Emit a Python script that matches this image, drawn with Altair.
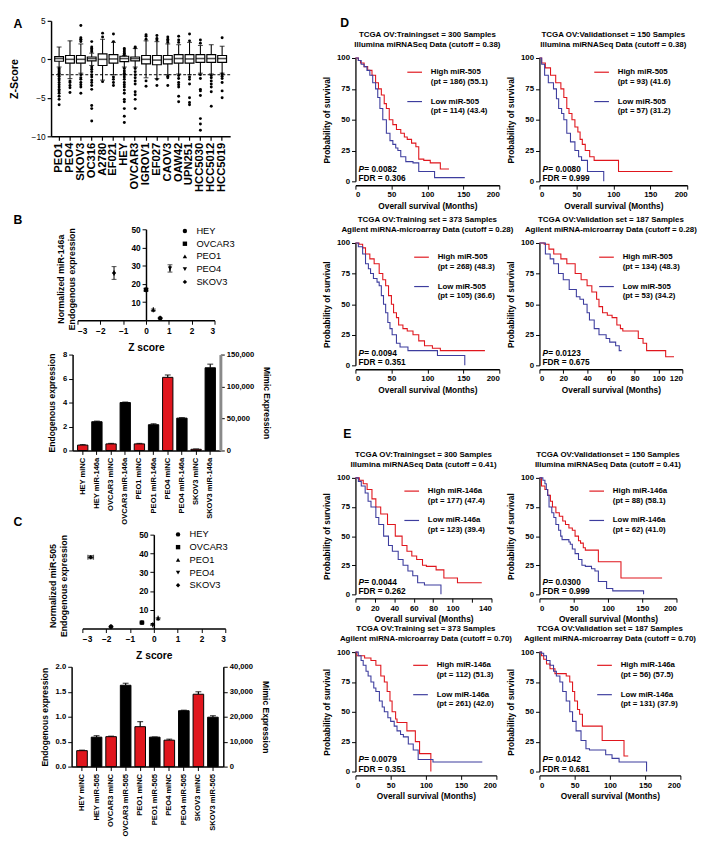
import altair as alt
import pandas as pd

FONT = "Liberation Sans"
RED = "#e0161d"
BLUE = "#3d3d9e"

# ---------------- Panel A ----------------
cell_lines = ["PEO1", "PEO4", "SKOV3", "OC316", "A2780", "EF021", "HEY", "OVCAR3",
              "IGROV1", "EF027", "CAOV3", "OAW42", "UPN251", "HCC5030", "HCC5012", "HCC5019"]
box_q1 = [-0.25, -0.5, -0.5, -0.2, -0.8, -0.5, -0.3, -0.2, -0.6, -0.7, -0.6, -0.5, -0.5, -0.4, -0.4, -0.4]
box_med = [0.1, 0.0, 0.0, 0.1, 0.0, 0.05, 0.1, 0.1, 0.0, -0.1, 0.0, 0.1, 0.05, 0.1, 0.1, 0.1]
box_q3 = [0.35, 0.5, 0.5, 0.3, 0.7, 0.6, 0.4, 0.3, 0.5, 0.5, 0.5, 0.6, 0.6, 0.6, 0.6, 0.5]
whisk_lo = [-1.0, -2.5, -1.8, -0.8, -2.7, -2.0, -1.0, -1.0, -2.4, -2.5, -2.0, -1.9, -2.0, -1.8, -1.9, -1.8]
whisk_hi = [1.6, 2.4, 2.0, 0.8, 2.6, 2.2, 0.5, 1.4, 2.4, 2.3, 2.0, 1.9, 2.2, 1.8, 1.9, 1.7]
outliers = {
    "PEO1": [-1.2, -1.4, -1.6, -1.8, -2.0, -2.2, -2.5, -2.7, -3.0, -3.3, -3.6, -3.9, -4.1, -4.4, -4.8, -5.2, -5.9],
    "PEO4": [-2.8, -3.0, -3.4, -3.7, -4.3],
    "SKOV3": [2.3, 2.5, 2.6, 2.8, 4.4, -2.0, -2.4, -2.6, -3.0, -3.3, -3.6, -4.4],
    "OC316": [1.0, 1.2, 1.4, 1.6, 2.3, -1.0, -1.3, -1.6, -2.0, -2.3, -2.7, -3.0, -3.4, -3.9, -6.0, -6.4, -8.0],
    "A2780": [2.9, 3.4, -2.9],
    "EF021": [2.3, 3.3, -2.3, -2.6, -3.0, -3.4],
    "HEY": [0.6, 0.8, 1.0, 1.2, 1.4, -1.2, -1.5, -1.8, -2.0, -2.3, -2.6, -3.0, -3.3, -3.6, -4.0, -4.4,
            -5.2, -5.5, -6.4, -7.4, -8.2],
    "OVCAR3": [1.5, 1.6, -1.2, -1.6, -2.0, -2.4, -2.8, -3.2, -4.2, -4.6, -5.2, -6.4],
    "IGROV1": [2.6, 3.0, 3.2, -2.8, -3.5],
    "EF027": [2.5, 2.7, 3.1, -2.6, -3.4],
    "CAOV3": [2.2, 2.4, 2.6, 2.9, -2.2, -2.4, -3.4],
    "OAW42": [2.2, 2.5, 3.0, -2.1, -2.5, -3.0, -3.3, -3.6, -4.8, -5.5],
    "UPN251": [2.4, 3.3, -2.3, -2.6, -3.2, -5.0, -5.6, -5.9],
    "HCC5030": [2.1, 2.5, -2.0, -2.5, -3.9, -4.1, -4.7, -7.7, -8.4, -9.2],
    "HCC5012": [-2.1, -2.4, -2.8, -3.2, -3.6, -4.2, -6.1],
    "HCC5019": [2.8, -1.9, -2.2, -2.5, -3.0, -4.1, -5.0],
}
z_threshold = [-2.0]
panel_letters = ["A", "B", "C", "D", "E"]

# ---------------- Panels B / C scatter ----------------
cells = ["HEY", "OVCAR3", "PEO1", "PEO4", "SKOV3"]
cell_shapes = ["circle", "square", "triangle-up", "triangle-down", "diamond"]
b_z = [0.62, 0.0, 0.32, 1.05, -1.4]
b_expr = [1.2, 16.8, 5.8, 28.5, 26.0]
b_err_y = [0.3, 0.6, 0.4, 2.0, 3.5]
b_err_x = [0, 0, 0, 0, 0]
c_z = [-1.8, -0.5, 0.18, -0.05, -2.65]
c_expr = [1.0, 3.2, 5.5, 2.0, 38.0]
c_err_y = [0.2, 0.3, 0.3, 0.3, 0.8]
c_err_x = [0, 0, 0, 0, 0.12]

# ---------------- Panels B / C bars ----------------
b_bar_cats = ["HEY miNC", "HEY miR-146a", "OVCAR3 miNC", "OVCAR3 miR-146a", "PEO1 miNC",
              "PEO1 miR-146a", "PEO4 miNC", "PEO4 miR-146a", "SKOV3 miNC", "SKOV3 miR-146a"]
b_bar_vals = [0.45, 2.4, 0.55, 4.0, 0.55, 2.15, 6.1, 2.7, 0.1, 6.9]
b_bar_err = [0.04, 0.05, 0.04, 0.04, 0.04, 0.08, 0.2, 0.04, 0.03, 0.3]
c_bar_cats = ["HEY miNC", "HEY miR-505", "OVCAR3 miNC", "OVCAR3 miR-505", "PEO1 miNC",
              "PEO1 miR-505", "PEO4 miNC", "PEO4 miR-505", "SKOV3 miNC", "SKOV3 miR-505"]
c_bar_vals = [0.32, 0.59, 0.60, 1.63, 0.80, 0.59, 0.53, 1.12, 1.45, 0.99]
c_bar_err = [0.01, 0.03, 0.01, 0.04, 0.10, 0.005, 0.02, 0.01, 0.05, 0.03]
bar_groups = ["miNC", "mimic"] * 5
b_mimic_ticks = [0, 50000, 100000, 150000]
c_mimic_ticks = [0, 10000, 20000, 30000, 40000]

# ---------------- Panels D / E Kaplan-Meier ----------------
km_panels = [
    dict(t1="TCGA OV:Trainingset = 300 Samples", t2="Illumina miRNASeq Data (cutoff = 0.38)",
         rt=[0, 4, 7, 12, 17, 23, 28, 32, 36, 40, 43, 47, 52, 57, 63, 68, 72, 78, 84, 88, 95, 104, 118, 130],
         rs=[100, 98, 96, 93, 90, 86, 80, 75, 70, 63, 59, 50, 46, 42, 39, 36, 34, 31, 28, 18, 17, 15, 10, 10],
         bt=[0, 4, 8, 12, 16, 20, 24, 28, 31, 34, 38, 43, 48, 52, 56, 59, 63, 70, 80, 88, 110, 152],
         bs=[100, 98, 95, 93, 90, 86, 80, 75, 68, 59, 50, 39, 33, 30, 27, 25, 20, 16, 15, 8, 3, 3],
         hi1="High miR-505", hi2="(pt = 186) (55.1)", lo1="Low miR-505", lo2="(pt = 114) (43.4)",
         p="0.0082", fdr="0.306", xmax=200, xstep=50),
    dict(t1="TCGA OV:Validationset = 150 Samples", t2="Illumina miRNASeq Data (cutoff = 0.38)",
         rt=[0, 3, 8, 15, 22, 29, 33, 37, 40, 44, 48, 52, 55, 58, 62, 68, 74, 107, 180],
         rs=[100, 96, 92, 86, 80, 75, 68, 59, 55, 50, 44, 40, 34, 30, 25, 20, 17, 8, 8],
         bt=[0, 3, 7, 12, 19, 23, 26, 30, 33, 37, 42, 48, 53, 57, 65, 87],
         bs=[100, 95, 86, 80, 75, 67, 59, 55, 50, 39, 32, 25, 20, 17, 8, 0],
         hi1="High miR-505", hi2="(pt = 93) (41.6)", lo1="Low miR-505", lo2="(pt = 57) (31.2)",
         p="0.0080", fdr="0.999", xmax=200, xstep=50),
    dict(t1="TCGA OV:Training set = 373 Samples", t2="Agilent miRNA-microarray Data (cutoff = 0.28)",
         rt=[0, 5, 10, 14, 20, 26, 33, 38, 42, 46, 50, 53, 57, 60, 66, 72, 80, 88, 96, 107, 118, 180],
         rs=[100, 99, 96, 91, 87, 83, 75, 70, 65, 57, 50, 43, 39, 33, 30, 28, 25, 20, 16, 14, 12, 12],
         bt=[0, 4, 10, 14, 18, 21, 25, 30, 33, 36, 39, 42, 45, 48, 51, 57, 62, 73, 114, 152],
         bs=[100, 97, 91, 83, 79, 75, 71, 68, 65, 57, 50, 43, 35, 30, 25, 18, 15, 12, 8, 0],
         hi1="High miR-505", hi2="(pt = 268) (48.3)", lo1="Low miR-505", lo2="(pt = 105) (36.6)",
         p="0.0094", fdr="0.351", xmax=200, xstep=50),
    dict(t1="TCGA OV:Validation set = 187 Samples", t2="Agilent miRNA-microarray Data (cutoff = 0.28)",
         rt=[0, 4, 8, 12, 18, 23, 30, 35, 40, 44, 48, 50, 53, 57, 61, 65, 68, 70, 83, 87, 90, 106, 113],
         rs=[100, 99, 95, 91, 87, 83, 75, 70, 65, 60, 54, 48, 43, 41, 39, 33, 30, 28, 22, 18, 12, 7, 7],
         bt=[0, 5, 9, 12, 16, 20, 25, 31, 34, 37, 40, 42, 46, 50, 56, 59, 64, 67, 69],
         bs=[100, 91, 87, 83, 75, 70, 62, 56, 54, 50, 43, 37, 30, 25, 22, 19, 16, 12, 12],
         hi1="High miR-505", hi2="(pt = 134) (48.3)", lo1="Low miR-505", lo2="(pt = 53) (34.2)",
         p="0.0123", fdr="0.675", xmax=120, xstep=20),
    dict(t1="TCGA OV:Trainingset = 300 Samples", t2="Illumina miRNASeq Data (cutoff = 0.41)",
         rt=[0, 4, 8, 12, 17, 21, 26, 33, 41, 48, 53, 58, 63, 69, 73, 83, 91, 105, 130],
         rs=[100, 98, 95, 90, 82, 75, 69, 60, 50, 42, 37, 33, 30, 25, 24, 21, 14, 10, 10],
         bt=[0, 3, 6, 10, 13, 16, 21, 24, 29, 34, 38, 44, 49, 54, 59, 64, 71, 88],
         bs=[100, 97, 93, 87, 80, 75, 66, 60, 50, 42, 37, 30, 25, 20, 16, 10, 8, 0],
         hi1="High miR-146a", hi2="(pt = 177) (47.4)", lo1="Low miR-146a", lo2="(pt = 123) (39.4)",
         p="0.0044", fdr="0.262", xmax=140, xstep=20),
    dict(t1="TCGA OV:Validationset = 150 Samples", t2="Illumina miRNASeq Data (cutoff = 0.41)",
         rt=[0, 3, 8, 12, 16, 19, 24, 29, 34, 38, 43, 48, 52, 57, 60, 64, 67, 86, 119, 179],
         rs=[100, 93, 90, 85, 80, 75, 70, 67, 63, 60, 57, 55, 50, 46, 44, 40, 38, 28, 14, 14],
         bt=[0, 5, 8, 10, 12, 14, 18, 21, 24, 28, 31, 33, 43, 45, 48, 52, 57, 62, 67, 76, 81, 86, 98, 107, 152],
         bs=[100, 98, 95, 90, 85, 75, 70, 66, 60, 55, 50, 47, 45, 43, 39, 35, 30, 25, 24, 22, 20, 11, 5, 3, 0],
         hi1="High miR-146a", hi2="(pt = 88) (58.1)", lo1="Low miR-146a", lo2="(pt = 62) (41.0)",
         p="0.0300", fdr="0.999", xmax=200, xstep=50),
    dict(t1="TCGA OV:Training set = 373 Samples", t2="Agilent miRNA-microarray Data (cutoff = 0.70)",
         rt=[0, 2, 13, 22, 29, 36, 41, 45, 49, 52, 57, 59, 73, 85, 91, 107],
         rs=[100, 97, 95, 93, 89, 80, 75, 67, 59, 50, 44, 41, 34, 25, 15, 0],
         bt=[0, 4, 8, 11, 15, 18, 22, 26, 29, 34, 38, 41, 46, 50, 55, 59, 64, 68, 75, 82, 89, 110, 180],
         bs=[100, 97, 93, 89, 84, 80, 75, 70, 67, 59, 54, 50, 45, 42, 38, 34, 31, 29, 23, 18, 10, 8, 8],
         hi1="High miR-146a", hi2="(pt = 112) (51.3)", lo1="Low miR-146a", lo2="(pt = 261) (42.0)",
         p="0.0079", fdr="0.351", xmax=200, xstep=50),
    dict(t1="TCGA OV:Validation set = 187 Samples", t2="Agilent miRNA-microarray Data (cutoff = 0.70)",
         rt=[0, 3, 6, 10, 15, 22, 38, 43, 47, 50, 54, 57, 61, 89, 120, 126],
         rs=[100, 97, 94, 90, 86, 82, 80, 75, 67, 59, 52, 48, 38, 26, 13, 13],
         bt=[0, 3, 6, 10, 15, 20, 24, 29, 33, 38, 43, 47, 52, 59, 66, 71, 94, 103, 113, 152],
         bs=[100, 99, 97, 93, 89, 84, 80, 75, 67, 59, 50, 42, 34, 26, 19, 18, 14, 11, 8, 0],
         hi1="High miR-146a", hi2="(pt = 56) (57.5)", lo1="Low miR-146a", lo2="(pt = 131) (37.9)",
         p="0.0142", fdr="0.681", xmax=200, xstep=50),
]


def spacer(w, h, letter=None, x=0, y=0):
    """Empty view used for layout; a panel letter, if any, is drawn as an axis title."""
    base = alt.Chart(pd.DataFrame({"s": [0]})).mark_point(opacity=0, size=1)
    if letter:
        enc = dict(
            x=alt.X("s:Q", axis=alt.Axis(orient="top", title=letter, domain=False, ticks=False,
                                         labels=False, grid=False, titleX=x, titleY=y,
                                         titleAlign="left", titleBaseline="middle", titleAngle=0,
                                         titlePadding=0, titleFontSize=12.5,
                                         titleFontWeight="bold", titleColor="black")),
            y=alt.value(0))
    else:
        enc = dict(x=alt.value(0), y=alt.value(0))
    return base.encode(**enc).properties(width=w, height=h)


# ---------------- build A ----------------
def build_a(x0):
    w, h = 183, 118
    rows = pd.DataFrame({"line": cell_lines, "q1": box_q1, "med": box_med, "q3": box_q3,
                         "lo": whisk_lo, "hi": whisk_hi})
    outs = pd.DataFrame([(k, v) for k in cell_lines for v in outliers[k]], columns=["line", "z"])
    thr = pd.DataFrame({"z": z_threshold})
    xaxis = alt.Axis(title=None, labelAngle=-90, labelFontSize=11.5, labelFontWeight="bold",
                     tickSize=4, domainWidth=1.5, tickWidth=1.2, labelPadding=2)
    xs = alt.Scale(paddingInner=0.12, paddingOuter=0.3, range=[x0, x0 + w])

    def X():
        return alt.X("line:N", sort=cell_lines, scale=xs, axis=xaxis)

    def Y(f):
        return alt.Y(f, scale=alt.Scale(domain=[-10, 5], nice=False),
                     axis=alt.Axis(title="Z-Score", values=[-10, -5, 0, 5], titleFontSize=11,
                                   titleFontWeight="bold", labelFontSize=8.5, titlePadding=12,
                                   domainWidth=1.5, tickSize=4, tickWidth=1.2, offset=-x0))

    base = alt.Chart(rows)
    whisk = base.mark_rule(color="black", strokeWidth=1.1).encode(x=X(), y=Y("lo:Q"), y2="hi:Q")
    capl = base.mark_tick(color="black", size=5, thickness=1.1).encode(x=X(), y=Y("lo:Q"))
    caph = base.mark_tick(color="black", size=5, thickness=1.1).encode(x=X(), y=Y("hi:Q"))
    box = base.mark_bar(fill="white", stroke="black", strokeWidth=1.2, width=9).encode(
        x=X(), y=Y("q1:Q"), y2="q3:Q")
    med = base.mark_tick(color="black", size=9, thickness=1.6).encode(x=X(), y=Y("med:Q"))
    pts = alt.Chart(outs).mark_circle(color="black", size=9, opacity=1).encode(x=X(), y=Y("z:Q"))
    dash = alt.Chart(thr).mark_rule(color="black", strokeDash=[3, 2], strokeWidth=1).encode(
        x=alt.value(x0), x2=alt.value(x0 + w), y=Y("z:Q"))
    return alt.layer(whisk, capl, caph, box, med, pts, dash).properties(width=x0 + w, height=h)


# ---------------- scatter ----------------
def build_scatter(z, expr, ey, ex, x0, w, h, ytitle, tx, lx, ly):
    df = pd.DataFrame({"cell": cells, "z": z, "expr": expr,
                       "ylo": [e - d for e, d in zip(expr, ey)], "yhi": [e + d for e, d in zip(expr, ey)],
                       "xlo": [a - d for a, d in zip(z, ex)], "xhi": [a + d for a, d in zip(z, ex)]})
    xaxis = alt.Axis(values=[-3, -2, -1, 0, 1, 2, 3], title="Z score", titleFontSize=10.5,
                     titleFontWeight="bold", labelFontSize=8.5, labelFontWeight="bold",
                     tickSize=4, domainWidth=1.5, titlePadding=8)
    yaxis = alt.Axis(values=[10, 20, 30, 40, 50], offset=-(x0 + w / 2), title=ytitle, titleX=tx,
                     titleY=h / 2 + 4, titleAngle=-90, titleAlign="center", titleBaseline="bottom",
                     titleLineHeight=11, titleFontSize=9, titleFontWeight="bold", labelFontSize=8.5,
                     labelFontWeight="bold", tickSize=4, domainWidth=1.5)

    def X(f):
        return alt.X(f, scale=alt.Scale(domain=[-3, 3], nice=False, range=[x0, x0 + w]), axis=xaxis)

    def Y(f):
        return alt.Y(f, scale=alt.Scale(domain=[0, 50], nice=False), axis=yaxis)

    base = alt.Chart(df)
    vbar = base.mark_rule(color="black", strokeWidth=1).encode(x=X("z:Q"), y=Y("ylo:Q"), y2="yhi:Q")
    vcap1 = base.mark_tick(orient="horizontal", size=5, thickness=1, color="black").encode(x=X("z:Q"), y=Y("ylo:Q"))
    vcap2 = base.mark_tick(orient="horizontal", size=5, thickness=1, color="black").encode(x=X("z:Q"), y=Y("yhi:Q"))
    hbar = base.mark_rule(color="black", strokeWidth=1).encode(x=X("xlo:Q"), x2="xhi:Q", y=Y("expr:Q"))
    hcap1 = base.mark_tick(orient="vertical", size=5, thickness=1, color="black").encode(x=X("xlo:Q"), y=Y("expr:Q"))
    hcap2 = base.mark_tick(orient="vertical", size=5, thickness=1, color="black").encode(x=X("xhi:Q"), y=Y("expr:Q"))
    pts = base.mark_point(filled=True, size=20, color="black", opacity=1).encode(
        x=X("z:Q"), y=Y("expr:Q"),
        shape=alt.Shape("cell:N", scale=alt.Scale(domain=cells, range=cell_shapes),
                        legend=alt.Legend(orient="none", legendX=lx, legendY=ly, title=None,
                                          labelFontSize=9.5, symbolSize=20, symbolFillColor="black",
                                          symbolStrokeColor="black", rowPadding=2, labelOffset=7)))
    return alt.layer(vbar, vcap1, vcap2, hbar, hcap1, hcap2, pts).properties(width=x0 + w, height=h)


# ---------------- bars ----------------
def build_bars(cats, vals, errs, ymax, yvals, yfmt, mticks, x0, w, h, rcolor, rwidth):
    df = pd.DataFrame({"cat": cats, "val": vals, "hi": [v + e for v, e in zip(vals, errs)], "grp": bar_groups})
    xaxis = alt.Axis(title=None, labelAngle=-90, labelFontSize=7.7, labelFontWeight="bold",
                     tickSize=4, domainWidth=1.5, labelPadding=3)
    xs = alt.Scale(paddingInner=0.27, paddingOuter=0.35, range=[x0, x0 + w])
    yaxis = alt.Axis(values=yvals, format=yfmt, title="Endogenous expression", titleFontSize=8.7,
                     titleFontWeight="bold", labelFontSize=7.8, labelFontWeight="bold",
                     tickSize=4, domainWidth=1.5, titlePadding=6, offset=-x0)

    def X():
        return alt.X("cat:N", sort=cats, scale=xs, axis=xaxis)

    def Y(f):
        return alt.Y(f, scale=alt.Scale(domain=[0, ymax], nice=False), axis=yaxis)

    base = alt.Chart(df)
    err = base.mark_rule(color="black", strokeWidth=1.2).encode(x=X(), y=Y("val:Q"), y2="hi:Q")
    cap = base.mark_tick(color="black", size=6, thickness=1.2).encode(x=X(), y=Y("hi:Q"))
    bars = base.mark_bar(stroke="black", strokeWidth=1).encode(
        x=X(), y=Y("val:Q"),
        color=alt.Color("grp:N", scale=alt.Scale(domain=["miNC", "mimic"], range=[RED, "black"]), legend=None))
    left = alt.layer(err, cap, bars)
    mdf = pd.DataFrame({"m": [mticks[0], mticks[-1]]})
    right = alt.Chart(mdf).mark_point(opacity=0).encode(
        y=alt.Y("m:Q", scale=alt.Scale(domain=[mticks[0], mticks[-1]], nice=False),
                axis=alt.Axis(orient="right", values=mticks, labelExpr="format(datum.value, ',')",
                              title="Mimic Expression",
                              titleAngle=90, titleFontSize=8.7, titleFontWeight="bold",
                              labelFontSize=7.8, labelFontWeight="bold", tickSize=4,
                              domainWidth=rwidth, domainColor=rcolor, titlePadding=8)))
    return alt.layer(left, right).resolve_scale(y="independent").properties(width=x0 + w, height=h)


# ---------------- KM ----------------
def build_km(d, w, h, lx, ly, hide120=False):
    df = pd.DataFrame({"t": d["rt"] + d["bt"], "s": d["rs"] + d["bs"],
                       "grp": [d["hi1"]] * len(d["rt"]) + [d["lo1"]] * len(d["bt"])})
    ticks = list(range(0, d["xmax"] + 1, d["xstep"]))
    xaxis_kw = dict(values=ticks, title="Overall survival (Months)", titleFontSize=8.5,
                    titleFontWeight="bold", labelFontSize=8, labelFontWeight="bold", tickSize=4,
                    domainWidth=1.3, offset=4, titlePadding=3)
    if hide120:
        xaxis_kw["labelExpr"] = "datum.value == 120 ? '' : datum.label"
    lab = ("datum.label == '%s' ? ['%s', '%s'] : ['%s', '%s']"
           % (d["hi1"], d["hi1"], d["hi2"], d["lo1"], d["lo2"]))
    line = alt.Chart(df).mark_line(interpolate="step-after", strokeWidth=1.1).encode(
        x=alt.X("t:Q", scale=alt.Scale(domain=[0, d["xmax"]], nice=False), axis=alt.Axis(**xaxis_kw)),
        y=alt.Y("s:Q", scale=alt.Scale(domain=[0, 100], nice=False),
                axis=alt.Axis(values=[0, 25, 50, 75, 100], title="Probability of survival",
                              titleFontSize=8.5, titleFontWeight="bold", labelFontSize=8,
                              labelFontWeight="bold", tickSize=4, domainWidth=1.3, titlePadding=5)),
        color=alt.Color("grp:N", scale=alt.Scale(domain=[d["hi1"], d["lo1"]], range=[RED, BLUE]),
                        legend=alt.Legend(orient="none", legendX=lx, legendY=ly, title=None,
                                          symbolType="stroke", symbolSize=225, symbolStrokeWidth=1.2,
                                          labelFontSize=8, labelFontWeight="bold", labelExpr=lab,
                                          labelOffset=8, rowPadding=7, labelLimit=0)))
    stats = pd.DataFrame({"p": ["P"], "pv": [" = " + d["p"]], "f": ["FDR = " + d["fdr"]]})
    sbase = alt.Chart(stats)
    ptxt = sbase.mark_text(align="left", baseline="middle", fontSize=8.5, fontWeight="bold",
                           fontStyle="italic", color="black").encode(
        text="p:N", x=alt.value(3), y=alt.value(h - 13))
    pv = sbase.mark_text(align="left", baseline="middle", fontSize=8.5, fontWeight="bold",
                         color="black").encode(text="pv:N", x=alt.value(9), y=alt.value(h - 13))
    ftxt = sbase.mark_text(align="left", baseline="middle", fontSize=8.5, fontWeight="bold",
                           color="black").encode(text="f:N", x=alt.value(3), y=alt.value(h - 3))
    return alt.layer(line, ptxt, pv, ftxt).properties(
        width=w, height=h,
        title=alt.TitleParams(text=[d["t1"], d["t2"]], fontSize=8.1, fontWeight="bold",
                              offset=5, lineHeight=10.5, anchor="middle", color="black"))


RES = dict(color="independent", shape="independent")

# left column: flat column of single views; everything placed at x >= 0 by scale ranges
pa = build_a(39)
pbs = build_scatter(b_z, b_expr, b_err_y, b_err_x, 66, 140, 93,
                    ["Normalized miR-146a", "Endogenous expression"], -82, 171, -3)
pbb = build_bars(b_bar_cats, b_bar_vals, b_bar_err, 8, [0, 2, 4, 6, 8], "d", b_mimic_ticks,
                 61, 151, 98, "#8a8a8a", 3)
pcs = build_scatter(c_z, c_expr, c_err_y, c_err_x, 71, 146, 96,
                    ["Normalized miR-505", "Endogenous expression"], -98, 164, -5)
pcb = build_bars(c_bar_cats, c_bar_vals, c_bar_err, 2.0, [0, 0.5, 1.0, 1.5, 2.0], ".1f",
                 c_mimic_ticks, 60, 155, 102, "black", 1.5)

left = alt.vconcat(spacer(1, 1, panel_letters[0], 0, 4), pa,
                   spacer(1, 95, panel_letters[1], 0, 85), pbs, spacer(1, 35), pbb,
                   spacer(1, 86, panel_letters[2], 0, 73), pcs, spacer(1, 39), pcb,
                   spacing=0, bounds="flush").resolve_scale(**RES)

# right block: 3-column grid (letter column + two KM columns) of single views
k = km_panels
cells_grid = [
    spacer(1, 39, panel_letters[3], 26, 3), spacer(1, 39), spacer(1, 39),
    spacer(1, 126), build_km(k[0], 147, 126, 52, 6), build_km(k[1], 151, 126, 55, 6),
    spacer(1, 63), spacer(1, 63), spacer(1, 63),
    spacer(1, 125), build_km(k[2], 147, 125, 59, 6), build_km(k[3], 146, 125, 60, 6),
    spacer(1, 115, panel_letters[4], 29, 70), spacer(1, 115), spacer(1, 115),
    spacer(1, 119), build_km(k[4], 139, 119, 49, 5, hide120=True), build_km(k[5], 140, 119, 50, 5),
    spacer(1, 59), spacer(1, 59), spacer(1, 59),
    spacer(1, 122), build_km(k[6], 144, 122, 58, 5), build_km(k[7], 144, 122, 58, 5),
]
right = alt.concat(*cells_grid, columns=3, spacing={"row": 0, "column": 41},
                   bounds="flush").resolve_scale(**RES)

chart = alt.hconcat(left, right, spacing=43).resolve_scale(**RES).properties(
    padding=0, background="white"
).configure_view(strokeWidth=0).configure_axis(
    grid=False, domainColor="black", tickColor="black", labelColor="black", titleColor="black",
    labelFont=FONT, titleFont=FONT
).configure_legend(labelFont=FONT, labelColor="black").configure_text(font=FONT).configure_title(font=FONT)

chart.save("out.html", embed_options={"renderer": "svg", "actions": False})
